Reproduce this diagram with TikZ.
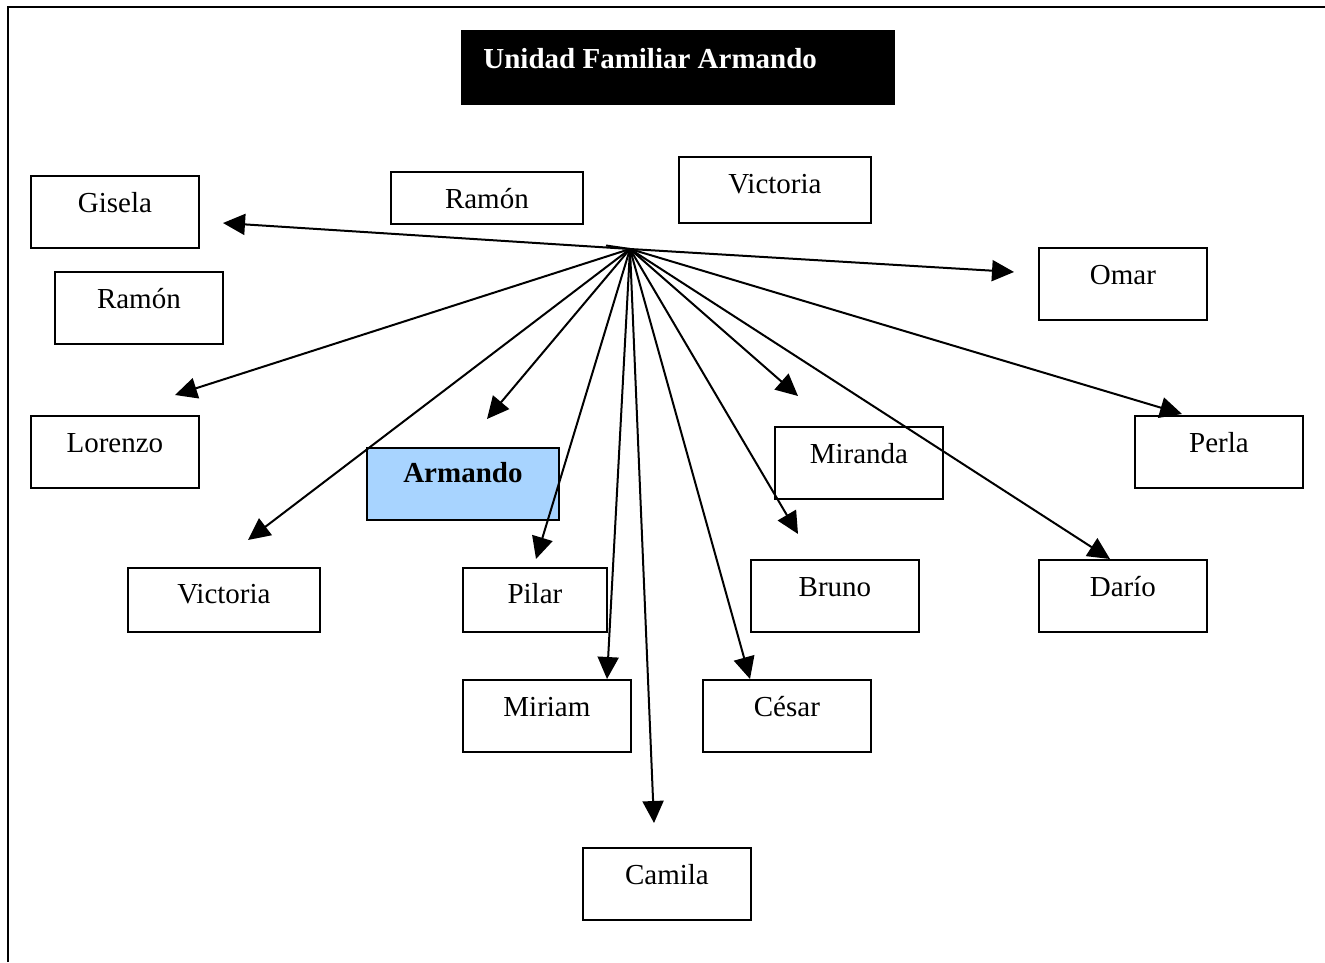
\documentclass[tikz,border=0pt]{standalone}
\usepackage{fontspec}
\setmainfont{Liberation Serif}
\usetikzlibrary{arrows.meta}
\definecolor{armblue}{RGB}{168,212,255}
\tikzset{
  fam/.style n args={3}{draw, line width=0.9pt, rectangle, inner xsep=0pt, inner ysep=0pt,
    minimum width=#1, minimum height=#2, text height=18.5pt, text depth=#3,
    font=\fontsize{14.5}{17}\selectfont, anchor=north west},
  link/.style={line width=1pt, -{Triangle[length=11pt,width=10.5pt]}},
  plain/.style={line width=1pt}
}
\begin{document}
\begin{tikzpicture}[x=0.5pt,y=-0.5pt]
\useasboundingbox (0,0) rectangle (1325,962);
% frame
\draw[line width=1pt] (8,962) -- (8,7.5) -- (1325,7.5);
% title
\node[fill=black, draw=black, anchor=north west, minimum width=216.5pt, minimum height=37pt, inner sep=0pt] (titlebox) at (461,30) {};
\node[anchor=base west, inner sep=0pt, text=white, font=\fontsize{14.5}{17}\selectfont\bfseries] (title) at (483,68.5) {Unidad Familiar Armando};
% boxes
\node[fam={84pt}{36pt}{17.5pt}] (gisela) at (30,175) {Gisela};
\node[fam={84pt}{36pt}{17.5pt}] (ramonl) at (54,271) {Ramón};
\node[fam={96pt}{26pt}{7.5pt}] (ramont) at (390,171) {Ramón};
\node[fam={96pt}{33pt}{14.5pt}] (victoriat) at (678,156) {Victoria};
\node[fam={84pt}{36pt}{17.5pt}] (omar) at (1038,247) {Omar};
\node[fam={84pt}{36pt}{17.5pt}] (lorenzo) at (30,415) {Lorenzo};
\node[fam={96pt}{36pt}{18.5pt}, fill=armblue, text height=17.5pt, font=\fontsize{14.5}{17}\selectfont\bfseries] (armando) at (366,447) {Armando};
\node[fam={84pt}{36pt}{17.5pt}] (miranda) at (774,426) {Miranda};
\node[fam={84pt}{36pt}{17.5pt}] (perla) at (1134,415) {Perla};
\node[fam={96pt}{32pt}{14pt}, text height=18pt] (victoriab) at (127,567) {Victoria};
\node[fam={72pt}{32pt}{14pt}, text height=18pt] (pilar) at (462,567) {Pilar};
\node[fam={84pt}{36pt}{17.5pt}] (bruno) at (750,559) {Bruno};
\node[fam={84pt}{36pt}{17.5pt}] (dario) at (1038,559) {Darío};
\node[fam={84pt}{36pt}{17.5pt}] (miriam) at (462,679) {Miriam};
\node[fam={84pt}{36pt}{17.5pt}] (cesar) at (702,679) {César};
\node[fam={84pt}{36pt}{17.5pt}] (camila) at (582,847) {Camila};
% hub and arrow tips
\coordinate (hub) at (630,249);
\coordinate (tick) at (606,245.5);
\coordinate (tGisela) at (223,223);
\coordinate (tOmar) at (1014,272);
\coordinate (tLorenzo) at (175,395);
\coordinate (tVictoria) at (248,540);
\coordinate (tArmando) at (487,419);
\coordinate (tPilar) at (536,559);
\coordinate (tMiriam) at (607,679);
\coordinate (tCamila) at (654,823);
\coordinate (tCesar) at (750,679);
\coordinate (tBruno) at (798,534);
\coordinate (tMiranda) at (798,396);
\coordinate (tDario) at (1110,559);
\coordinate (tPerla) at (1182,414);
% connectors
\draw[plain] (tick) -- (hub);
\draw[link] (hub) -- (tGisela);
\draw[link] (hub) -- (tOmar);
\draw[link] (hub) -- (tLorenzo);
\draw[link] (hub) -- (tVictoria);
\draw[link] (hub) -- (tArmando);
\draw[link] (hub) -- (tPilar);
\draw[link] (hub) -- (tMiriam);
\draw[link] (hub) -- (tCamila);
\draw[link] (hub) -- (tCesar);
\draw[link] (hub) -- (tBruno);
\draw[link] (hub) -- (tMiranda);
\draw[link] (hub) -- (tDario);
\draw[link] (hub) -- (tPerla);
\end{tikzpicture}
\end{document}
